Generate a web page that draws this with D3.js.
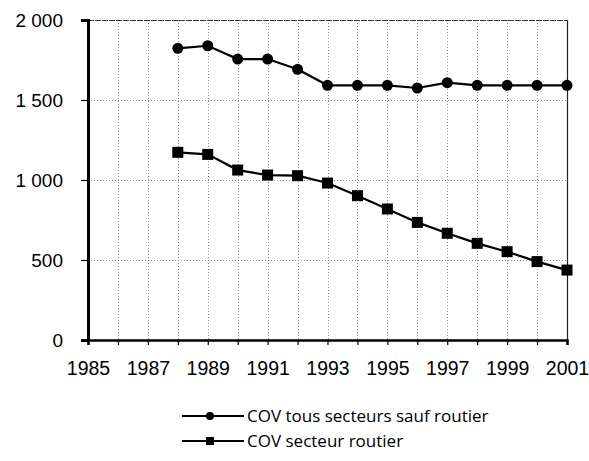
<!DOCTYPE html>
<html>
<head>
<meta charset="utf-8">
<script src="https://cdn.jsdelivr.net/npm/d3@7"></script>
<style>
  html, body { margin: 0; padding: 0; background: #fff; }
  svg { display: block; font-family: "Open Sans", "DejaVu Sans", sans-serif; }
</style>
</head>
<body>
<svg id="chart" width="589" height="461"></svg>
<script>
// Emissions de COV (kt), 1988-2001
const years = [1988, 1989, 1990, 1991, 1992, 1993, 1994, 1995, 1996, 1997, 1998, 1999, 2000, 2001];
const covHorsRoutier = [1823, 1839, 1756, 1756, 1692, 1592, 1592, 1592, 1575, 1608, 1592, 1592, 1592, 1592];
const covRoutier = [1173, 1160, 1062, 1031, 1027, 981, 902, 819, 735, 667, 604, 552, 490, 437];
const seriesNames = ["COV tous secteurs sauf routier", "COV secteur routier"];
const yTicks = [0, 500, 1000, 1500, 2000];
const xLabelYears = [1985, 1987, 1989, 1991, 1993, 1995, 1997, 1999, 2001];

const svg = d3.select("#chart");
const plotLeft = 88, plotRight = 567, plotTop = 20, plotBottom = 340;

const x = d3.scaleLinear().domain([1985, 2001]).range([plotLeft, plotRight]);
const y = d3.scaleLinear().domain([0, 2000]).range([plotBottom, plotTop]);

// French thousands separator
const fmt = v => v >= 1000 ? d3.format(",")(v).replace(",", " ") : String(v);

// grid
const grid = svg.append("g").attr("stroke", "#888").attr("stroke-width", 1)
  .attr("stroke-dasharray", "1,2").attr("fill", "none");
grid.selectAll("line.h").data(yTicks.filter(d => d > 0 && d < 2000)).join("line")
  .attr("x1", plotLeft).attr("x2", plotRight)
  .attr("y1", d => y(d) + 0.5).attr("y2", d => y(d) + 0.5);
grid.selectAll("line.v").data(d3.range(1986, 2001)).join("line")
  .attr("x1", d => Math.round(x(d)) + 0.5).attr("x2", d => Math.round(x(d)) + 0.5)
  .attr("y1", plotTop).attr("y2", plotBottom);

// frame: top and right edges
svg.append("line").attr("x1", plotLeft).attr("x2", plotRight).attr("y1", plotTop + 0.5).attr("y2", plotTop + 0.5)
  .attr("stroke", "#333").attr("stroke-width", 1.2).attr("stroke-dasharray", "6,1");
svg.append("line").attr("x1", plotRight + 0.5).attr("x2", plotRight + 0.5).attr("y1", plotTop).attr("y2", plotBottom)
  .attr("stroke", "#222").attr("stroke-width", 1.2);

// y axis
const yAxis = d3.axisLeft(y).tickValues(yTicks).tickFormat(fmt).tickSize(7).tickPadding(18);
const gy = svg.append("g").attr("transform", `translate(${plotLeft},0)`).call(yAxis);
gy.select(".domain").attr("stroke", "#000").attr("stroke-width", 3);
gy.selectAll(".tick line").attr("stroke", "#000").attr("stroke-width", 1.2);
gy.selectAll(".tick text").attr("font-size", 19).attr("fill", "#000");

// x axis
const xAxis = d3.axisBottom(x).tickValues(d3.range(1985, 2002)).tickSize(5).tickPadding(16)
  .tickFormat(d => xLabelYears.includes(d) ? String(d) : "");
const gx = svg.append("g").attr("transform", `translate(0,${plotBottom})`).call(xAxis);
gx.select(".domain").attr("stroke", "#000").attr("stroke-width", 2.5);
gx.selectAll(".tick line").attr("stroke", "#000").attr("stroke-width", 1.2);
gx.selectAll(".tick text").attr("font-size", 19.5).attr("fill", "#000");

// series
const line = d3.line().x((d, i) => x(years[i])).y(d => y(d));

svg.append("path").datum(covHorsRoutier).attr("d", line)
  .attr("fill", "none").attr("stroke", "#000").attr("stroke-width", 2.2);
svg.append("g").selectAll("circle").data(covHorsRoutier).join("circle")
  .attr("cx", (d, i) => x(years[i])).attr("cy", d => y(d)).attr("r", 5.5).attr("fill", "#000");

svg.append("path").datum(covRoutier).attr("d", line)
  .attr("fill", "none").attr("stroke", "#000").attr("stroke-width", 2.2);
const sq = 11;
svg.append("g").selectAll("rect").data(covRoutier).join("rect")
  .attr("x", (d, i) => x(years[i]) - sq / 2).attr("y", d => y(d) - sq / 2)
  .attr("width", sq).attr("height", sq).attr("fill", "#000");

// legend
const legend = svg.append("g");
const legY = [416, 441];
seriesNames.forEach((name, i) => {
  const g = legend.append("g").attr("transform", `translate(0,${legY[i]})`);
  g.append("line").attr("x1", 182).attr("x2", 244).attr("y1", 0).attr("y2", 0)
    .attr("stroke", "#000").attr("stroke-width", 2);
  if (i === 0) g.append("circle").attr("cx", 210).attr("cy", 0).attr("r", 4).attr("fill", "#000");
  else g.append("rect").attr("x", 206).attr("y", -4).attr("width", 8).attr("height", 8).attr("fill", "#000");
  g.append("text").attr("x", 247).attr("y", 0).attr("dy", "0.35em")
    .attr("font-size", 17).attr("fill", "#000").text(name);
});
</script>
</body>
</html>
